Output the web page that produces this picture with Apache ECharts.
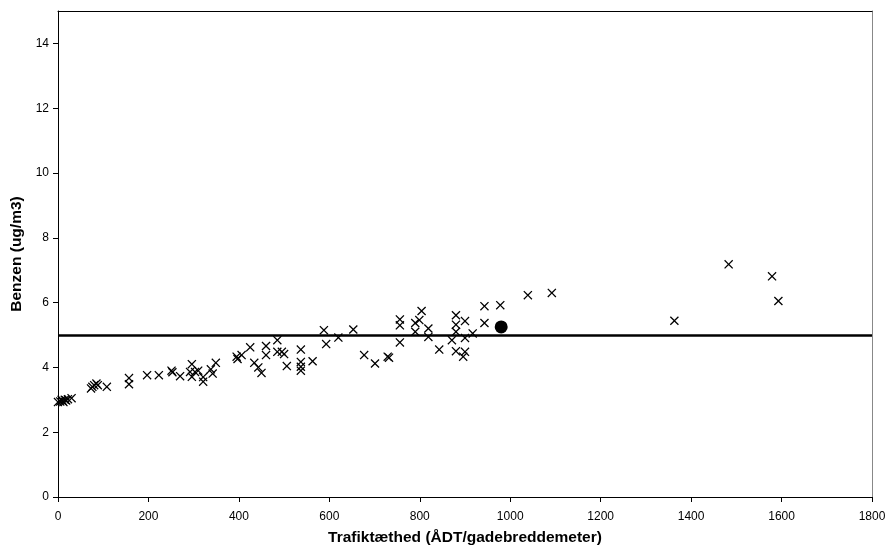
<!DOCTYPE html>
<html>
<head>
<meta charset="utf-8">
<script src="https://cdn.jsdelivr.net/npm/echarts@6/dist/echarts.min.js"></script>
<style>
  html, body { margin: 0; padding: 0; background: #fff; }
  #chart { width: 896px; height: 552px; }
</style>
</head>
<body>
<div id="chart"></div>
<script>
// Traffic density (ÅDT per metre of street width) for each street
const trafficDensity = [
  0, 5, 8, 10, 12, 15, 18, 22, 30,
  73, 76, 80, 85, 88, 108, 157, 157, 197, 223,
  251, 253, 270, 292, 296, 296, 303, 310, 321, 321, 338, 342, 349,
  395, 397, 406, 425, 434, 443, 450, 460, 460,
  485, 485, 495, 500, 506, 537, 537, 537, 537, 563,
  588, 593, 620, 653, 677, 701, 729, 732,
  756, 756, 756, 790, 790, 799, 804, 819, 819, 843,
  871, 880, 880, 880, 880, 896, 900, 900, 900, 917,
  943, 943, 978, 1039, 1092, 1363, 1483, 1579, 1593
];
// Benzene concentration (ug/m3) for the same streets
const benzene = [
  2.93, 2.95, 3.0, 2.97, 2.93, 3.0, 2.98, 3.02, 3.05,
  3.35, 3.4, 3.45, 3.5, 3.45, 3.4, 3.67, 3.48, 3.76, 3.76,
  3.9, 3.85, 3.73, 3.86, 4.1, 3.71, 3.86, 3.9, 3.56, 3.7, 3.94, 3.81, 4.14,
  4.33, 4.26, 4.38, 4.62, 4.14, 4.0, 3.83, 4.66, 4.38,
  4.84, 4.48, 4.48, 4.41, 4.04, 4.55, 4.17, 4.02, 3.9, 4.19,
  5.15, 4.72, 4.92, 5.17, 4.38, 4.12, 4.33, 4.3,
  5.48, 5.3, 4.77, 5.37, 5.1, 5.46, 5.74, 5.2, 4.94, 4.55,
  4.84, 5.61, 5.32, 5.1, 4.5, 4.33, 5.43, 4.91, 4.48, 5.05,
  5.89, 5.37, 5.92, 6.23, 6.3, 5.44, 7.18, 6.81, 6.05
];
// Highlighted street
const highlightX = 980;
const highlightY = 5.25;
// Limit value
const limitValue = 5;

// Axis ranges and tick steps
const xMin = 0, xMax = 1800, xStep = 200;
const yMin = 0, yMax = 15, yStep = 2;

const points = trafficDensity.map((x, i) => [x, benzene[i]]);

const crossPath = 'path://M1,0L5,4L9,0L10,1L6,5L10,9L9,10L5,6L1,10L0,9L4,5L0,1Z';
const font = '"Liberation Sans", Arial, sans-serif';
const plain = v => String(v);

const chart = echarts.init(document.getElementById('chart'));
chart.setOption({
  animation: false,
  backgroundColor: '#fff',
  grid: { left: 58, right: 24, top: 11, bottom: 55, show: false },
  xAxis: [{
    type: 'value', min: xMin, max: xMax, interval: xStep,
    name: 'Trafiktæthed (ÅDT/gadebreddemeter)',
    nameLocation: 'middle', nameGap: 33,
    nameTextStyle: { fontFamily: font, fontSize: 15.5, fontWeight: 'bold', color: '#000' },
    axisLine: { show: true, onZero: false, lineStyle: { color: '#000', width: 1 } },
    axisTick: { show: true, length: 5, inside: false, lineStyle: { color: '#000' } },
    axisLabel: { fontFamily: font, fontSize: 12, color: '#000', margin: 14, formatter: plain },
    splitLine: { show: false }
  }, {
    type: 'value', position: 'top', min: xMin, max: xMax,
    axisLine: { show: true, onZero: false, lineStyle: { color: '#000', width: 1 } },
    axisTick: { show: false }, axisLabel: { show: false }, splitLine: { show: false }
  }],
  yAxis: [{
    type: 'value', min: yMin, max: yMax, interval: yStep,
    name: 'Benzen (ug/m3)',
    nameLocation: 'middle', nameGap: 33, nameRotate: 90,
    nameTextStyle: { fontFamily: font, fontSize: 15.5, fontWeight: 'bold', color: '#000' },
    axisLine: { show: true, onZero: false, lineStyle: { color: '#000', width: 1 } },
    axisTick: { show: true, length: 5, inside: false, lineStyle: { color: '#000' } },
    axisLabel: { fontFamily: font, fontSize: 12, color: '#000', margin: 9, showMaxLabel: false, formatter: plain },
    splitLine: { show: false }
  }, {
    type: 'value', position: 'right', min: yMin, max: yMax,
    axisLine: { show: true, onZero: false, lineStyle: { color: '#888', width: 1 } },
    axisTick: { show: false }, axisLabel: { show: false }, splitLine: { show: false }
  }],
  series: [{
    type: 'scatter',
    data: points,
    symbol: crossPath,
    symbolSize: 9,
    itemStyle: { color: '#000', opacity: 1 },
    markLine: {
      silent: true,
      symbol: 'none',
      label: { show: false },
      lineStyle: { color: '#000', width: 2.5, type: 'solid', opacity: 1 },
      data: [{ yAxis: limitValue }]
    },
    z: 3
  }, {
    type: 'scatter',
    data: [[highlightX, highlightY]],
    symbol: 'circle',
    symbolSize: 13,
    itemStyle: { color: '#000', opacity: 1 },
    z: 4
  }]
});
</script>
</body>
</html>
